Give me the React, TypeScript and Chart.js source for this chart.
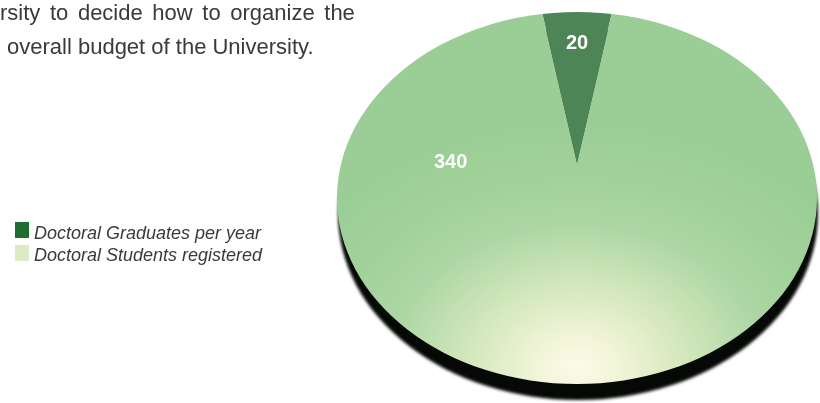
import React, { useEffect, useRef } from "react";
import { Chart, registerables } from "chart.js";

Chart.register(...registerables);

// ---- data ----
const categories = ["Doctoral Graduates per year", "Doctoral Students registered"];
const values = [20, 340];
const valueLabels = ["20", "340"];
const sliceColors = ["#4e8556", "#9ed098"];
const legendColors = ["#1f6e30", "#dcebc6"];
const introLines = ["rsity to decide how to organize the", "overall budget of the University."];

// ---- style / geometry constants ----
const CANVAS_W = 820;
const CANVAS_H = 465;
const CANVAS_TOP = -62;
const SX = 1.316; // horizontal stretch of the pie (perspective look)
const ELL_RX = 240;
const ELL_RY = 186;
const ELL_DY = 35; // ellipse centre below pie centre
const FONT = '"Liberation Sans", Arial, Helvetica, sans-serif';
// label placement: [angle in degrees (null = mid-angle of slice), radius in px (unscaled)]
const labelPlacement: Array<[number | null, number]> = [
  [null, 120],
  [180.5, 96],
];

const ellipsePlugin = {
  id: "ellipsePie",
  beforeDatasetsDraw(chart: any) {
    const ctx: CanvasRenderingContext2D = chart.ctx;
    const a = chart.chartArea;
    const cx = (a.left + a.right) / 2;
    const cy = (a.top + a.bottom) / 2;
    const ey = cy + ELL_DY;
    ctx.save();
    // 3D side / shadow
    ctx.save();
    ctx.beginPath();
    ctx.ellipse(cx + 1, ey + 16, ELL_RX, ELL_RY, 0, 0, Math.PI * 2);
    ctx.fillStyle = "#050805";
    (ctx as any).filter = "blur(1.5px)";
    ctx.fill();
    ctx.restore();
    // clip to the pie's oval face
    ctx.beginPath();
    ctx.ellipse(cx, ey, ELL_RX, ELL_RY, 0, 0, Math.PI * 2);
    ctx.clip();
    ctx.translate(cx, 0);
    ctx.scale(SX, 1);
    ctx.translate(-cx, 0);
  },
  afterDatasetsDraw(chart: any) {
    const ctx: CanvasRenderingContext2D = chart.ctx;
    ctx.restore();
    const meta = chart.getDatasetMeta(0);
    ctx.save();
    ctx.fillStyle = "#ffffff";
    ctx.font = `bold 20px ${FONT}`;
    ctx.textAlign = "center";
    ctx.textBaseline = "middle";
    meta.data.forEach((arc: any, i: number) => {
      const [deg, r] = labelPlacement[i];
      const ang = deg === null ? (arc.startAngle + arc.endAngle) / 2 : (deg * Math.PI) / 180;
      const x = arc.x + SX * r * Math.cos(ang);
      const y = arc.y + r * Math.sin(ang);
      ctx.fillText(valueLabels[i], x, y);
    });
    ctx.restore();
  },
};

function faceColor(c: any) {
  if (c.dataIndex === 0) return sliceColors[0];
  const chart = c.chart;
  const a = chart.chartArea;
  if (!a) return sliceColors[1];
  const cx = (a.left + a.right) / 2;
  const cy = (a.top + a.bottom) / 2;
  const g = chart.ctx.createRadialGradient(cx, cy + 204, 0, cx, cy + 204, 240);
  g.addColorStop(0, "#fbfbe8");
  g.addColorStop(0.12, "#f3f5d9");
  g.addColorStop(0.35, "#d2e7bb");
  g.addColorStop(0.6, "#acd6a3");
  g.addColorStop(0.82, "#a0d199");
  g.addColorStop(1, "#9bce96");
  return g;
}

export default function App() {
  const canvasRef = useRef<HTMLCanvasElement | null>(null);

  useEffect(() => {
    if (!canvasRef.current) return;
    const chart = new Chart(canvasRef.current, {
      type: "pie",
      data: {
        labels: categories,
        datasets: [
          {
            data: values,
            backgroundColor: faceColor as any,
            borderWidth: 0,
            clip: false as any,
          },
        ],
      },
      options: {
        responsive: false,
        animation: false,
        events: [],
        rotation: -10,
        layout: { padding: { left: 352, right: 18, top: 0, bottom: 15 } },
        plugins: {
          legend: { display: false },
          tooltip: { enabled: false },
        },
      },
      plugins: [ellipsePlugin],
    });
    return () => chart.destroy();
  }, []);

  return (
    <div
      style={{
        position: "fixed",
        left: 0,
        top: 0,
        width: 820,
        height: 403,
        overflow: "hidden",
        background: "#ffffff",
        fontFamily: FONT,
      }}
    >
      <div style={{ position: "absolute", left: 0, top: CANVAS_TOP, width: CANVAS_W, height: CANVAS_H }}>
        <canvas ref={canvasRef} width={CANVAS_W} height={CANVAS_H} />
      </div>
      <div
        style={{
          position: "absolute",
          left: 0,
          top: 2,
          fontSize: 22,
          lineHeight: "22px",
          color: "#3a3a3a",
          whiteSpace: "nowrap",
          wordSpacing: "3.5px",
        }}
      >
        {introLines[0]}
      </div>
      <div
        style={{
          position: "absolute",
          left: 7,
          top: 36,
          fontSize: 22,
          lineHeight: "22px",
          color: "#3a3a3a",
          whiteSpace: "nowrap",
        }}
      >
        {introLines[1]}
      </div>
      {categories.map((label, i) => (
        <div key={label}>
          <div
            style={{
              position: "absolute",
              left: 15,
              top: 222 + i * 23,
              width: 14,
              height: 16,
              background: legendColors[i],
            }}
          />
          <div
            style={{
              position: "absolute",
              left: 34,
              top: 224 + i * 22,
              fontSize: 18,
              lineHeight: "18px",
              fontStyle: "italic",
              color: "#3a3a3a",
              whiteSpace: "nowrap",
            }}
          >
            {label}
          </div>
        </div>
      ))}
    </div>
  );
}
